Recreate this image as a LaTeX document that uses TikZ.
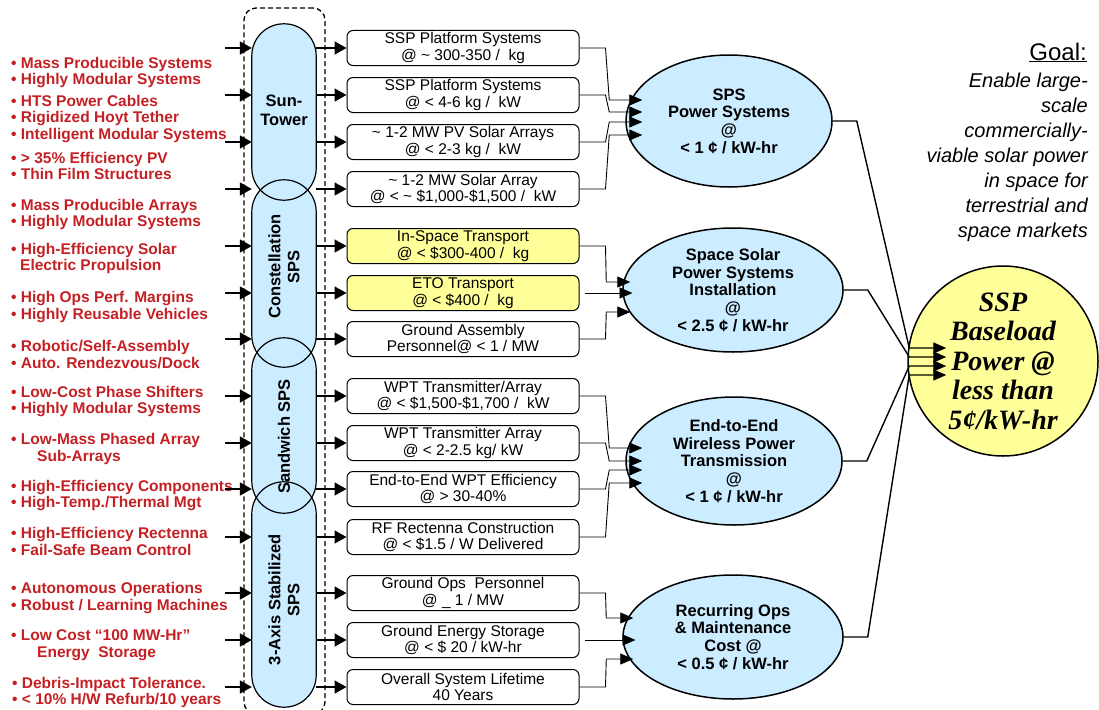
\documentclass[tikz,border=0pt]{standalone}
\usepackage{fontspec}
\setmainfont{Liberation Sans}
\newfontfamily\ballfont{Liberation Serif}
\usepackage{xcolor}
\usepackage{tikz}
\usetikzlibrary{positioning,arrows.meta,calc,shapes.geometric}
\definecolor{skyfill}{RGB}{204,236,255}
\definecolor{lemon}{RGB}{255,255,153}
\definecolor{techred}{RGB}{196,32,36}

\begin{document}
\begin{tikzpicture}[x=1pt, y=-1pt, node distance=11pt,
  tech/.style={anchor=west, align=left, inner sep=0pt, text=techred, font=\fontsize{15.5}{16.6}\selectfont\bfseries},
  pill/.style={fill=skyfill, rounded corners=32pt, minimum width=64pt, inner sep=0pt},
  pilltxt/.style={align=center, inner sep=0pt, font=\fontsize{16.5}{19}\selectfont\bfseries},
  box/.style={draw, line width=1pt, rounded corners=6pt, fill=white, minimum width=232pt, minimum height=35pt, inner xsep=2pt, inner ysep=0pt, align=center, font=\fontsize{15.5}{16.5}\selectfont},
  hotbox/.style={box, fill=lemon},
  target/.style={ellipse, draw, line width=1.5pt, fill=skyfill, inner sep=0pt, align=center, font=\fontsize{16.5}{17.7}\selectfont\bfseries},
  goalball/.style={circle, draw, line width=1.5pt, fill=lemon, minimum size=190pt, inner sep=0pt, align=center, font=\fontsize{28}{29.5}\selectfont\ballfont\bfseries\itshape},
  arr/.style={line width=1.6pt, -{Triangle[length=12pt,width=13pt]}},
  feed/.style={line width=0.9pt, -{Triangle[length=13pt,width=11pt]}},
  sum/.style={line width=1.4pt, -{Triangle[length=13pt,width=11pt]}}]
\useasboundingbox (0,0) rectangle (1099,709);

% technology needs
\node[tech] (l1) at (11,72.5) {• Mass Producible Systems\\• Highly Modular Systems};
\node[tech] (l2) at (11,119) {• HTS Power Cables\\• Rigidized Hoyt Tether\\• Intelligent Modular Systems};
\node[tech] (l3) at (11,166) {• > 35\% Efficiency PV\\• Thin Film Structures};
\node[tech] (l4) at (11,214.5) {• Mass Producible Arrays\\• Highly Modular Systems};
\node[tech] (l5) at (11,258.5) {• High-Efficiency Solar\\\hspace*{9pt}Electric Propulsion};
\node[tech] (l6) at (11,307) {• High Ops Perf. Margins\\• Highly Reusable Vehicles};
\node[tech] (l7) at (11,354.5) {• Robotic/Self-Assembly\\• Auto. Rendezvous/Dock};
\node[tech] (l8) at (11,401.5) {• Low-Cost Phase Shifters\\• Highly Modular Systems};
\node[tech] (l9) at (11,449) {• Low-Mass Phased Array\\\hspace*{26pt}Sub-Arrays};
\node[tech] (l10) at (11,495.5) {• High-Efficiency Components\\• High-Temp./Thermal Mgt};
\node[tech] (l11) at (11,541.5) {• High-Efficiency Rectenna\\• Fail-Safe Beam Control};
\node[tech] (l12) at (11,598) {• Autonomous Operations\\• Robust / Learning Machines};
\node[tech] (l13) at (11,645) {• Low Cost “100 MW-Hr”\\\hspace*{26pt}Energy ~Storage};
\node[tech] (l14) at (12,692.5) {• Debris-Impact Tolerance.\\• < 10\% H/W Refurb/10 years};

% architecture concepts
\node[draw, line width=1.3pt, dash pattern=on 5pt off 3pt, rounded corners=12pt, minimum width=81pt, minimum height=706pt] (frame) at (284.5,361) {};
\node[pill, minimum height=176pt] (sun) at (284,112) {};
\node[pill, minimum height=187pt] (con) at (284,273.5) {};
\node[pill, minimum height=175pt] (sand) at (284,425.5) {};
\node[pill, minimum height=225pt] (axis) at (284,594.5) {};
\foreach \p in {sun,con,sand,axis}
  \draw[line width=1.2pt, rounded corners=32pt] (\p.north west) rectangle (\p.south east);
\node[pilltxt] (suntxt) at ([yshift=1.5pt]sun.center) {Sun-\\Tower};
\node[pilltxt, rotate=90] (contxt) at ([yshift=7pt]con.center) {Constellation\\SPS};
\node[pilltxt, rotate=90] (sandtxt) at ([yshift=-11pt]sand.center) {Sandwich SPS};
\node[pilltxt, rotate=90] (axistxt) at ([yshift=-5pt]axis.center) {3-Axis Stabilized\\SPS};

% metrics
\node[box] (b1) at (463,48) {SSP Platform Systems\\@ \textasciitilde{} 300-350 / ~kg};
\node[box] (b2) at (463,95) {SSP Platform Systems\\@ < 4-6 kg / ~kW};
\node[box] (b3) at (463,142) {\textasciitilde{} 1-2 MW PV Solar Arrays\\@ < 2-3 kg / ~kW};
\node[box] (b4) at (463,189) {\textasciitilde{} 1-2 MW Solar Array\\@ < \textasciitilde{} \$1,000-\$1,500 / ~kW};
\node[hotbox] (b5) at (463,246) {In-Space Transport\\@ < \$300-400 / ~kg};
\node[hotbox] (b6) at (463,293) {ETO Transport\\@ < \$400 / ~kg};
\node[box] (b7) at (463,339) {Ground Assembly\\Personnel@ < 1 / MW};
\node[box] (b8) at (463,396) {WPT Transmitter/Array\\@ < \$1,500-\$1,700 / ~kW};
\node[box] (b9) at (463,443) {WPT Transmitter Array\\@ < 2-2.5 kg/ kW};
\node[box] (b10) at (463,489) {End-to-End WPT Efficiency\\@ > 30-40\%};
\node[box] (b11) at (463,537) {RF Rectenna Construction\\@ < \$1.5 / W Delivered};
\node[box] (b12) at (463,593) {Ground Ops ~Personnel\\@ \_ 1 / MW};
\node[box] (b13) at (463,640) {Ground Energy Storage\\@ < \$ 20 / kW-hr};
\node[box] (b14) at (463,687) {Overall System Lifetime\\40 Years};

\coordinate (lstart) at (225,0);
\foreach \i in {1,...,14} {
  \draw[arr] (b\i.west -| lstart) -- (b\i.west -| sun.west);
  \draw[arr] (b\i.west -| sun.east) -- (b\i.west);
}

% cost targets
\node[target, minimum width=206pt, minimum height=132pt] (e1) at (729,121) {SPS\\Power Systems\\@\\< 1 ¢ / kW-hr};
\node[target, minimum width=220pt, minimum height=124pt] (e2) at (733,290) {Space Solar\\Power Systems\\Installation\\@\\< 2.5 ¢ / kW-hr};
\node[target, minimum width=216pt, minimum height=128pt] (e3) at (734,461) {End-to-End\\Wireless Power\\Transmission\\@\\< 1 ¢ / kW-hr};
\node[target, minimum width=220pt, minimum height=124pt] (e4) at (733,637) {Recurring Ops\\\& Maintenance\\Cost @\\< 0.5 ¢ / kW-hr};

\foreach \b/\e/\dy/\run in {1/e1/-21/33, 2/e1/-9/33, 3/e1/1/33, 4/e1/14/33, 5/e2/-8/24, 7/e2/22/24,
    8/e3/-13/33, 9/e3/0/33, 10/e3/9/33, 11/e3/22/33, 12/e4/-19/27, 14/e4/22/27}
  \draw[feed] (b\b.east) -- ++(26,0) -- ($(\e.west)+(-16,\dy)$) -- ++(\run,0);
\draw[feed] ([xshift=5pt]b6.east) -- ++(48,0);
\draw[feed] ([xshift=5pt]b13.east) -- ++(51,0);

% goal
\node[goalball] (ssp) at (1003,361) {SSP\\Baseload\\Power @\\less than\\5¢/kW-hr};
\foreach \e/\dy in {e1/-13, e2/-4, e3/5, e4/14}
  \draw[sum] (\e.east) -- ++(24,0) -- ($(ssp.west)+(2,\dy)$) -- ++(37,0);

\node[anchor=base east, inner sep=0pt, font=\fontsize{24}{28}\selectfont] (goal) at (1087,60) {\underline{Goal:}};
\node[anchor=north east, inner sep=0pt, align=right, font=\fontsize{20}{25}\selectfont\itshape] (aim) at (1088,73)
  {Enable large-\\scale\\commercially-\\viable solar power\\in space for\\terrestrial and\\space markets};
\end{tikzpicture}
\end{document}
